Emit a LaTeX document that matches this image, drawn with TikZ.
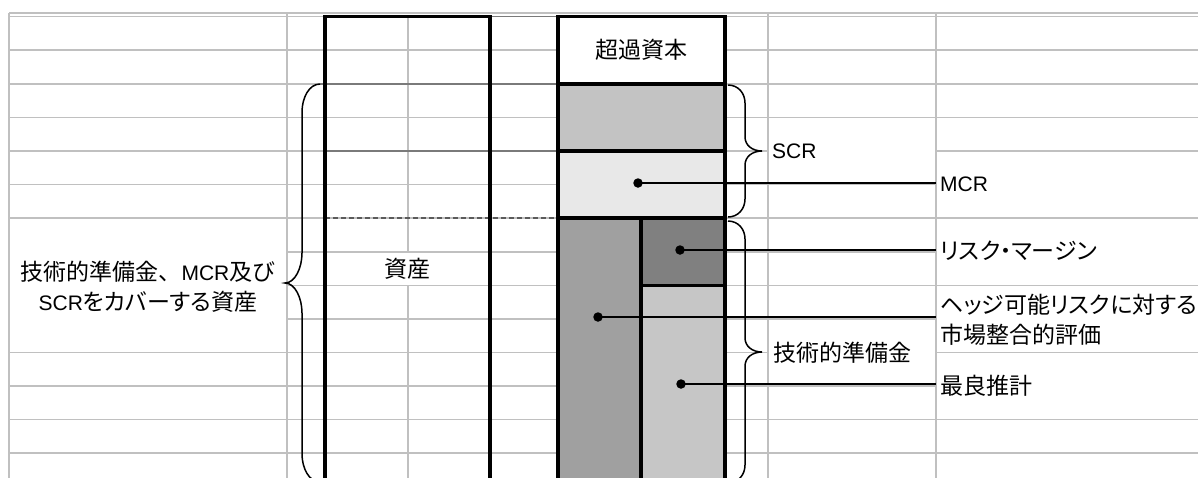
\documentclass[tikz,border=0pt]{standalone}
\usepackage{fontspec}
\newfontfamily\jpfont[RawFeature=+palt]{Noto Sans CJK JP}
\newfontfamily\jpfull{Noto Sans CJK JP}
\newfontfamily\latfont{Liberation Sans}
\newcommand\mylat[1]{{\latfont\fontsize{21}{30}\selectfont #1}}
\definecolor{gridgray}{HTML}{C0C0C0}
\definecolor{darkdot}{HTML}{7A7A7A}
\definecolor{dashdark}{HTML}{5A5A5A}
\definecolor{scrfill}{HTML}{C3C3C3}
\definecolor{mcrfill}{HTML}{E8E8E8}
\definecolor{tpfill}{HTML}{A0A0A0}
\definecolor{rmfill}{HTML}{808080}
\definecolor{befill}{HTML}{C6C6C6}
\begin{document}
\begin{tikzpicture}[x=1pt,y=-1pt,
  gl/.style={draw=gridgray,line width=1.7pt},
  dk/.style={draw=darkdot,line width=1.8pt},
  bx/.style={draw=black,line width=3.2pt},
  brc/.style={draw=black,line width=1.5pt},
  conn/.style={draw=black,line width=2pt},
  bdot/.style={circle,fill=black,inner sep=0pt,minimum size=9.5pt},
  jptxt/.style={font=\jpfont\fontsize{23}{30}\selectfont,inner sep=0pt},
  jpfulltxt/.style={font=\jpfull\fontsize{23}{30}\selectfont,inner sep=0pt},
  lattxt/.style={font=\latfont\fontsize{21}{30}\selectfont,inner sep=0pt}
]
\fill[white] (0,0) rectangle (1198,477);
\useasboundingbox (0,0) rectangle (1198,477);
\clip (0,0) rectangle (1198,477);

% spreadsheet grid
\foreach \y in {13,16.5,50,84,117.5,218,419.5,453} \draw[gl] (9,\y) -- (1198,\y);
\draw[gl] (287,252) -- (936,252);
\draw[gl] (287,285.5) -- (1198,285.5);
\draw[gl] (9,151) -- (768,151);
\draw[gl] (936,151) -- (1198,151);
\draw[gl] (9,184.5) -- (936,184.5);
\draw[gl] (287,319) -- (936,319);
\draw[gl] (9,352.5) -- (768,352.5);
\draw[gl] (936,352.5) -- (1198,352.5);
\draw[gl] (9,386) -- (936,386);
\foreach \x in {9,287,768,936} \draw[gl] (\x,13) -- (\x,480);
\draw[gl] (408,16.5) -- (408,252);
\draw[gl] (408,285.5) -- (408,480);

% dark guide lines
\draw[dk] (320,84) -- (558,84);
\draw[dk] (325,151) -- (558,151);
\draw[dk,draw=dashdark,dash pattern=on 5pt off 3pt] (325,218) -- (558,218);
\draw[dk] (490,16.5) -- (558,16.5);

% balance sheet fills
\fill[white] (558,16.5) rectangle (725,84);
\fill[scrfill] (558,84) rectangle (725,151);
\fill[mcrfill] (558,151) rectangle (725,218);
\fill[tpfill] (558,218) rectangle (641,480);
\fill[rmfill] (641,218) rectangle (725,285.5);
\fill[befill] (641,285.5) rectangle (725,480);

% thick borders
\draw[bx] (325,480) -- (325,16.5) -- (490,16.5) -- (490,480);
\draw[bx] (558,480) -- (558,16.5) -- (725,16.5) -- (725,480);
\draw[bx] (558,84) -- (725,84);
\draw[bx] (558,151) -- (725,151);
\draw[bx] (558,218) -- (725,218);
\draw[bx] (641,218) -- (641,480);
\draw[bx] (641,285.5) -- (725,285.5);

% braces
\draw[brc] (728,85) .. controls (738,85) and (745,93) .. (745,103) -- (745,137)
  .. controls (745,145) and (752,151) .. (762,151)
  .. controls (752,151) and (745,157) .. (745,165) -- (745,199)
  .. controls (745,209) and (738,217) .. (728,217);
\draw[brc] (728,221) .. controls (738,221) and (745,229) .. (745,239) -- (745,338)
  .. controls (745,346) and (752,352) .. (762,352)
  .. controls (752,352) and (745,358) .. (745,366) -- (745,465)
  .. controls (745,475) and (738,483) .. (728,483);
\draw[brc] (320,84) .. controls (309,84) and (302,98) .. (302,112) -- (302,253)
  .. controls (302,268) and (295,283) .. (285,283)
  .. controls (295,283) and (302,298) .. (302,313) -- (302,454)
  .. controls (302,468) and (309,482) .. (320,482);

% texts in boxes
\node[jpfulltxt] (excess) at (641.5,50) {超過資本};
\node[jpfulltxt] (assets) at (407.5,268.5) {資産};
\node[jpfulltxt,align=center] (coverlbl) at (148,287) {技術的準備金、\mylat{MCR}及び\\\mylat{SCR}{\jpfont をカバーする}資産};
\node[lattxt,anchor=west] (scrlbl) at (772,151.5) {SCR};
\node[jpfulltxt,anchor=west] (tplbl) at (773,352.5) {技術的準備金};

% right-hand labels
\node[lattxt,anchor=west] (mcrlbl) at (940,184.5) {MCR};
\node[jptxt,anchor=west] (rmlbl) at (940,251) {リスク・マージン};
\node[jptxt,anchor=west,align=left] (hedgelbl) at (940,320) {ヘッジ可能リスクに対する\\市場整合的評価};
\node[jpfulltxt,anchor=west] (belbl) at (940,386) {最良推計};

% dots and connectors
\node[bdot] (dmcr) at (638,183) {};
\node[bdot] (drm) at (680,250) {};
\node[bdot] (dhedge) at (598,317) {};
\node[bdot] (dbe) at (681,384) {};
\draw[conn] (dmcr.center) -- ([xshift=-4pt]dmcr.center -| mcrlbl.west);
\draw[conn] (drm.center) -- ([xshift=-4pt]drm.center -| rmlbl.west);
\draw[conn] (dhedge.center) -- ([xshift=-4pt]dhedge.center -| hedgelbl.west);
\draw[conn] (dbe.center) -- ([xshift=-4pt]dbe.center -| belbl.west);
\end{tikzpicture}
\end{document}
